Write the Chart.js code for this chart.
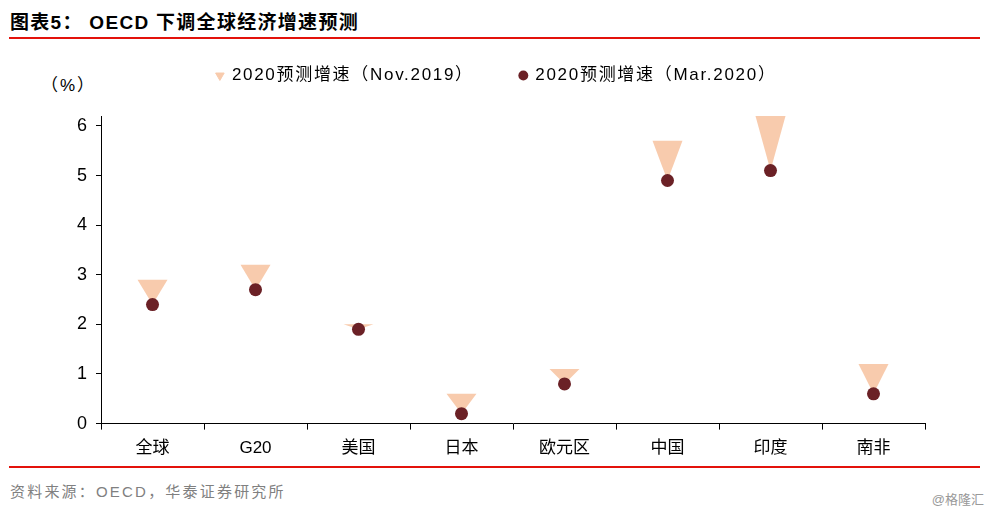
<!DOCTYPE html>
<html>
<head>
<meta charset="utf-8">
<script src="https://cdn.jsdelivr.net/npm/chart.js@4.4.1/dist/chart.umd.min.js"></script>
<style>
  body { margin: 0; width: 992px; height: 514px; background: #fff; position: relative; overflow: hidden;
         font-family: "Liberation Sans", "Noto Sans CJK SC", sans-serif; }
  #title { position: absolute; left: 10px; top: 13px; font-size: 19px; line-height: 19px; letter-spacing: 1.3px;
           font-weight: bold; color: #000; }
  .rule { position: absolute; left: 9px; width: 971px; height: 2px; background: #E3120B; }
  #unit { position: absolute; left: 41px; top: 76px; font-size: 17px; line-height: 20px; letter-spacing: 2px; color: #000; }
  #source { position: absolute; left: 10px; top: 483px; font-size: 15px; line-height: 17px; letter-spacing: 2.2px; color: #808080; }
  #mark { position: absolute; right: 8px; top: 492px; font-size: 13px; line-height: 15px; color: #999; }
  #wrap { position: absolute; left: 0; top: 21px; width: 992px; height: 447px; }
</style>
</head>
<body>
<div id="title">图表5： OECD 下调全球经济增速预测</div>
<div class="rule" style="top:37px"></div>
<div id="unit">（%）</div>
<div id="wrap"><canvas id="growthChart"></canvas></div>
<div class="rule" style="top:466px"></div>
<div id="source">资料来源：OECD，华泰证券研究所</div>
<div id="mark">@格隆汇</div>
<script>
const regions = ["全球", "G20", "美国", "日本", "欧元区", "中国", "印度", "南非"];
const nov2019 = [2.9, 3.2, 2.0, 0.6, 1.1, 5.7, 6.2, 1.2];
const mar2020 = [2.4, 2.7, 1.9, 0.2, 0.8, 4.9, 5.1, 0.6];
const yTicks = [0, 1, 2, 3, 4, 5, 6];

const triColor = '#F8CBAD';
const dotColor = '#6B2126';

// draws the Nov.2019 markers as down triangles ending at the Mar.2020 value
const dropTriangles = {
  id: 'dropTriangles',
  beforeDatasetsDraw(chart) {
    const ctx = chart.ctx;
    const xs = chart.scales.x, ys = chart.scales.y;
    ctx.save();
    ctx.fillStyle = triColor;
    nov2019.forEach((v, i) => {
      const x = xs.getPixelForValue(i);
      const top = ys.getPixelForValue(v);
      const tip = ys.getPixelForValue(mar2020[i]);
      ctx.beginPath();
      ctx.moveTo(x - 15, top);
      ctx.lineTo(x + 15, top);
      ctx.lineTo(x, tip);
      ctx.closePath();
      ctx.fill();
    });
    ctx.restore();
  }
};

// wider legend text + extra room under the legend
const legendTweak = {
  id: 'legendTweak',
  beforeInit(chart) {
    const lg = chart.legend;
    const fit = lg.fit, draw = lg.draw;
    lg.fit = function () {
      this.ctx.save();
      this.ctx.letterSpacing = '1.7px';
      fit.call(this);
      this.ctx.restore();
      this.height += 22;
    };
    lg.draw = function () {
      this.ctx.save();
      this.ctx.letterSpacing = '1.7px';
      draw.call(this);
      this.ctx.restore();
    };
  }
};

let growthChart = new Chart(document.getElementById('growthChart').getContext('2d'), {
  type: 'line',
  data: {
    labels: regions,
    datasets: [{
      label: '2020预测增速（Nov.2019）',
      data: nov2019,
      showLine: false,
      pointStyle: 'triangle',
      pointRotation: 180,
      pointRadius: 0,
      pointHoverRadius: 0,
      backgroundColor: triColor,
      borderColor: triColor
    }, {
      label: '2020预测增速（Mar.2020）',
      data: mar2020,
      showLine: false,
      pointStyle: 'circle',
      pointRadius: 6.5,
      pointHoverRadius: 6.5,
      borderWidth: 0,
      backgroundColor: dotColor,
      borderColor: dotColor
    }]
  },
  options: {
    responsive: true,
    maintainAspectRatio: false,
    animation: false,
    layout: { padding: { left: 68, right: 67, top: 0, bottom: 0 } },
    plugins: {
      legend: {
        position: 'top',
        labels: {
          usePointStyle: true,
          boxHeight: 7,
          boxWidth: 7,
          padding: 46,
          color: '#000',
          font: { size: 17, family: '"Liberation Sans", "Noto Sans CJK SC"' }
        }
      },
      tooltip: { enabled: false }
    },
    scales: {
      x: {
        offset: true,
        grid: { display: true, drawOnChartArea: false, offset: true, tickLength: 6, color: '#000' },
        border: { color: '#000', width: 1 },
        ticks: { color: '#000', padding: 9, font: { size: 17, family: '"Liberation Sans", "Noto Sans CJK SC"' } }
      },
      y: {
        min: 0,
        max: 6.2,
        afterBuildTicks: axis => { axis.ticks = yTicks.map(v => ({ value: v })); },
        grid: { display: true, drawOnChartArea: false, tickLength: 5, color: '#000' },
        border: { color: '#000', width: 1 },
        ticks: { color: '#000', padding: 9, font: { size: 18, family: '"Liberation Sans"' } }
      }
    }
  },
  plugins: [dropTriangles, legendTweak]
});
</script>
</body>
</html>
